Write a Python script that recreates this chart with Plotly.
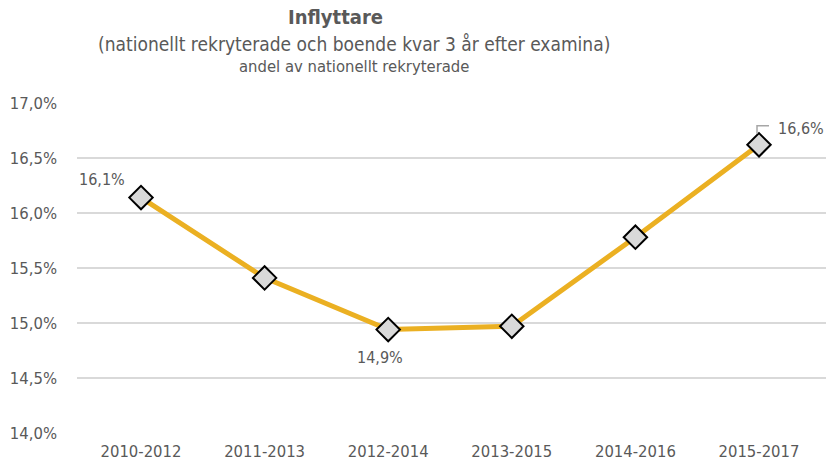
import plotly.graph_objects as go

categories = ["2010-2012", "2011-2013", "2012-2014", "2013-2015", "2014-2016", "2015-2017"]
values = [16.14, 15.41, 14.94, 14.97, 15.78, 16.62]
y_ticks = [14.0, 14.5, 15.0, 15.5, 16.0, 16.5, 17.0]
label_idx = [0, 2, 5]

FONT = "DejaVu Sans Condensed, Liberation Sans Narrow, sans-serif"
TXT = "#595959"

def fmt(v):
    return f"{v:.1f}".replace(".", ",") + "%"

fig = go.Figure()
fig.add_trace(go.Scatter(
    x=categories, y=values, mode="lines+markers",
    line=dict(color="#EBB022", width=5),
    marker=dict(symbol="diamond", size=18, color="#D9D9D9",
                line=dict(color="black", width=2)),
    hoverinfo="skip",
))

offsets = {0: (-39, 18), 2: (-8, -28), 5: (42, 16)}
for i in label_idx:
    dx, dy = offsets[i]
    fig.add_annotation(x=categories[i], y=values[i], xref="x", yref="y",
                       text=fmt(values[i]), showarrow=False,
                       xshift=dx, yshift=dy,
                       font=dict(family=FONT, size=16, color=TXT))

# leader line for last label
fig.add_shape(type="path", xref="x", yref="y",
              xsizemode="pixel", ysizemode="pixel",
              xanchor=categories[5], yanchor=values[5],
              path="M-2,11 L-2,19 L10,19",
              line=dict(color="#A6A6A6", width=1.5))

fig.update_layout(
    width=830, height=469,
    paper_bgcolor="white", plot_bgcolor="white",
    margin=dict(l=77, r=4, t=103, b=36, autoexpand=False),
    showlegend=False,
    font=dict(family=FONT, color=TXT),
    xaxis=dict(type="category", showgrid=False, showline=False, ticks="",
               tickfont=dict(size=16.5, color=TXT, family=FONT), ticklabelstandoff=6,
               automargin=False),
    yaxis=dict(range=[14, 17], tickvals=y_ticks, ticktext=[fmt(t) for t in y_ticks],
               showgrid=True, gridcolor="#D9D9D9", gridwidth=1.5, zeroline=False,
               showline=False, tickfont=dict(size=16.5, color=TXT, family=FONT),
               ticklabelstandoff=19, automargin=False),
)

W = 830 - 77 - 4
def px(xpix):
    return (xpix - 77) / W
def py(ypix):
    return (469 - 36 - ypix) / (469 - 139)

fig.add_annotation(text="<b>Inflyttare</b>", xref="paper", yref="paper",
                   x=px(335), y=py(17), xanchor="center", yanchor="middle",
                   showarrow=False, font=dict(size=20, color=TXT, family=FONT))
fig.add_annotation(text="(nationellt rekryterade och boende kvar 3 år efter examina)", xref="paper", yref="paper",
                   x=px(354), y=py(44), xanchor="center", yanchor="middle",
                   showarrow=False, font=dict(size=19, color=TXT, family=FONT))
fig.add_annotation(text="andel av nationellt rekryterade", xref="paper", yref="paper",
                   x=px(354), y=py(66), xanchor="center", yanchor="middle",
                   showarrow=False, font=dict(size=16.5, color=TXT, family=FONT))

fig.write_html("out.html", config={"displayModeBar": False},
               post_script="document.body.style.margin='0';document.body.style.overflow='hidden';")
